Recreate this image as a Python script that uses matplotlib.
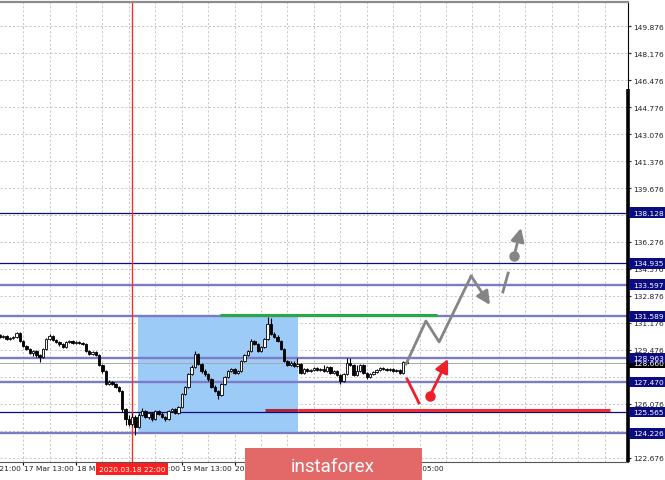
import matplotlib
matplotlib.use("Agg")
import matplotlib.pyplot as plt
from matplotlib.patches import Rectangle
from matplotlib.transforms import blended_transform_factory

# ── Candles (H1) ──────────────────────────────────────────────────────────────
opens = [130.40, 130.30, 130.36, 130.17, 130.23, 130.30, 130.55, 130.04, 129.73, 129.54,
         129.28, 129.41, 129.16, 129.03, 129.54, 130.17, 130.36, 130.11, 129.98, 129.86,
         129.67, 129.98, 130.04, 129.92, 129.98, 129.92, 129.86, 129.41, 129.22, 129.35,
         129.16, 128.53, 128.15, 127.34, 127.46, 127.34, 127.15, 126.89, 125.76, 125.13,
         124.82, 125.26, 124.63, 125.38, 125.64, 125.26, 125.51, 125.13, 125.64, 125.45,
         125.26, 125.13, 125.64, 125.76, 125.51, 125.89, 126.70, 127.15, 127.97, 128.40,
         129.22, 128.59, 128.15, 127.97, 127.65, 127.15, 126.89, 126.64, 127.34, 127.78,
         128.15, 128.28, 128.03, 128.15, 128.78, 129.16, 129.41, 130.04, 129.86, 129.41,
         129.67, 130.17, 131.11, 130.48, 130.30, 130.04, 129.54, 128.78, 128.53, 128.66,
         128.47, 128.59, 128.03, 128.28, 128.15, 128.22, 128.34, 128.22, 128.28, 128.15,
         128.40, 128.03, 128.15, 127.90, 127.53, 127.97, 128.66, 128.53, 127.90, 128.15,
         128.53, 128.03, 127.78, 127.97, 128.09, 128.22, 128.34, 128.28, 128.22, 128.28,
         128.15, 128.22, 128.03, 128.72]
highs = [130.48, 130.42, 130.40, 130.30, 130.36, 130.62, 130.58, 130.08, 129.80, 129.60,
         129.50, 129.46, 129.25, 129.60, 130.22, 130.50, 130.42, 130.18, 130.06, 129.92,
         130.04, 130.12, 130.10, 130.05, 130.04, 129.98, 129.92, 129.48, 129.42, 129.40,
         129.20, 128.60, 128.22, 127.60, 127.55, 127.40, 127.20, 126.95, 125.85, 125.40,
         125.50, 125.35, 125.50, 125.80, 125.72, 125.60, 125.58, 125.70, 125.72, 125.55,
         125.32, 125.70, 125.85, 125.82, 125.95, 126.76, 127.22, 128.05, 128.55, 129.41,
         129.30, 128.66, 128.25, 128.04, 127.72, 127.25, 126.98, 127.40, 127.85, 128.22,
         128.36, 128.34, 128.24, 128.85, 129.24, 129.50, 130.17, 130.12, 129.92, 129.75,
         130.25, 131.56, 131.50, 130.60, 130.40, 130.10, 129.60, 128.85, 128.75, 128.80,
         128.95, 128.65, 128.34, 128.35, 128.30, 128.40, 128.42, 128.34, 128.50, 128.46,
         128.46, 128.22, 128.20, 127.96, 128.05, 128.95, 128.95, 128.60, 128.55, 128.60,
         128.58, 128.10, 128.05, 128.15, 128.30, 128.40, 128.42, 128.35, 128.34, 128.36,
         128.30, 128.28, 128.80, 128.76]
lows = [130.24, 130.25, 130.10, 130.12, 130.18, 130.26, 129.98, 129.66, 129.47, 129.20,
        129.10, 129.05, 128.72, 128.95, 129.50, 130.10, 130.02, 129.90, 129.75, 129.58,
        129.62, 129.92, 129.86, 129.86, 129.85, 129.80, 129.35, 129.16, 129.15, 129.08,
        128.45, 128.00, 127.25, 127.28, 127.25, 127.05, 126.80, 125.60, 124.75, 124.70,
        124.70, 124.12, 124.55, 125.30, 125.18, 125.15, 125.00, 125.05, 125.38, 125.18,
        125.02, 125.08, 125.55, 125.42, 125.45, 125.80, 126.62, 127.08, 127.90, 128.35,
        128.50, 128.05, 127.85, 127.55, 127.05, 126.80, 126.39, 126.55, 127.28, 127.70,
        128.08, 127.95, 127.96, 128.10, 128.72, 129.10, 129.35, 129.78, 129.35, 129.33,
        129.60, 130.10, 130.40, 130.20, 129.95, 129.48, 128.70, 128.45, 128.45, 128.40,
        128.40, 127.95, 127.96, 128.08, 128.10, 128.15, 128.16, 128.15, 128.10, 128.08,
        127.96, 127.95, 127.82, 127.34, 127.45, 127.90, 128.45, 127.82, 127.84, 128.08,
        127.95, 127.65, 127.70, 127.90, 128.02, 128.15, 128.20, 128.16, 128.16, 128.08,
        128.10, 127.96, 127.98, 128.58]
closes = [130.30, 130.36, 130.17, 130.23, 130.30, 130.55, 130.04, 129.73, 129.54, 129.28,
          129.41, 129.16, 129.03, 129.54, 130.17, 130.36, 130.11, 129.98, 129.86, 129.67,
          129.98, 130.04, 129.92, 129.98, 129.92, 129.86, 129.41, 129.22, 129.35, 129.16,
          128.53, 128.15, 127.34, 127.46, 127.34, 127.15, 126.89, 125.76, 125.13, 124.82,
          125.26, 124.63, 125.38, 125.64, 125.26, 125.51, 125.13, 125.64, 125.45, 125.26,
          125.13, 125.64, 125.76, 125.51, 125.89, 126.70, 127.15, 127.97, 128.40, 129.22,
          128.59, 128.15, 127.97, 127.65, 127.15, 126.89, 126.64, 127.34, 127.78, 128.15,
          128.28, 128.03, 128.15, 128.78, 129.16, 129.41, 130.04, 129.86, 129.41, 129.67,
          130.17, 131.11, 130.48, 130.30, 130.04, 129.54, 128.78, 128.53, 128.66, 128.47,
          128.59, 128.03, 128.28, 128.15, 128.22, 128.34, 128.22, 128.28, 128.15, 128.40,
          128.03, 128.15, 127.90, 127.53, 127.97, 128.66, 128.53, 127.90, 128.15, 128.53,
          128.03, 127.78, 127.97, 128.09, 128.22, 128.34, 128.28, 128.22, 128.28, 128.15,
          128.22, 128.03, 128.72, 128.66]

# ── Axes text ─────────────────────────────────────────────────────────────────
time_label_bars = [-9, 7, 23, 39, 55, 71, 87, 103, 119]
time_labels = ["16 Mar 21:00", "17 Mar 13:00", "18 Mar 05:00", "18 Mar 21:00",
               "19 Mar 13:00", "20 Mar 05:00", "20 Mar 21:00", "23 Mar 13:00",
               "24 Mar 05:00"]
price_ticks = [149.876, 148.176, 146.476, 144.776, 143.076, 141.376, 139.676, 137.976,
               136.276, 134.576, 132.876, 131.176, 129.476, 127.776, 126.076, 124.376,
               122.676]
# scale labels that sit fully under a level box
covered_ticks = [137.976, 127.776, 124.376]
levels_thin = [138.128, 134.935, 125.565]
levels_thick = [133.597, 131.589, 128.963, 127.470, 124.226]
marker_bar = 40
marker_label = "2020.03.18 22:00"

# ── Drawn objects ─────────────────────────────────────────────────────────────
zone_bars = [41.8, 90.2]
zone_prices = [124.226, 131.589]
resist_bars = [66.6, 132.3]
resist_price = 131.65
support_bars = [80.2, 90.2, 184.6]
support_price = 125.68
up_path_bars = [122.9, 128.9, 132.9, 142.6, 148.3]
up_path_prices = [128.59, 131.30, 129.98, 134.13, 132.31]
up_tail_bars = [152.2, 153.8]
up_tail_prices = [133.13, 134.32]
up_dot = [155.6, 135.39]
up_tip = [157.7, 137.16]
down_bars = [123.2, 126.8]
down_prices = [127.65, 126.14]
down_dot = [130.1, 126.58]
down_tip = [135.6, 128.91]

NAVY = "#0B0B82"
LEVEL = "#7C7CC6"
GRID = "#BDBDBD"
FS = 5.4

fig = plt.figure(figsize=(6.65, 4.81), dpi=100)
ax = fig.add_axes([0, 18 / 481, 628 / 665, 460 / 481])
ax.set_xlim(0, 190.07)
ax.set_ylim(122.42, 151.39)
ypt = blended_transform_factory(ax.transAxes, ax.transData)
xpt = blended_transform_factory(ax.transData, ax.transAxes)

# grid
grid_bars = [7 + 8 * k for k in range(23)]
ax.set_xticks([b for b in time_label_bars if b >= 0])
ax.set_xticks(grid_bars, minor=True)
ax.set_xticklabels([])
ax.set_yticks(price_ticks)
ax.set_yticklabels(["" if p in covered_ticks else f"{p:.3f}" for p in price_ticks])
ax.grid(True, which="both", color=GRID, linestyle=(0, (2.5, 2.5)), lw=0.6)
ax.set_axisbelow(True)
ax.yaxis.tick_right()
ax.tick_params(axis="y", direction="out", length=2.2, pad=1.5, labelsize=FS,
               colors="#222222")
ax.tick_params(axis="x", which="major", direction="out", length=2.2)
ax.tick_params(axis="x", which="minor", length=0)

ax.spines["left"].set_visible(False)
ax.spines["top"].set_color("#8C8C8C")
ax.spines["top"].set_linewidth(1.6)
ax.spines["right"].set_linewidth(0.8)
ax.spines["bottom"].set_linewidth(0.8)
ax.spines["bottom"].set_color("#555555")
# thick part of price scale line
ax.plot([1, 1], [145.9, 122.42], transform=ypt, color="black", lw=2.6,
        clip_on=False, zorder=6, solid_capstyle="butt")

# zone
ax.add_patch(Rectangle((zone_bars[0], zone_prices[0]), zone_bars[1] - zone_bars[0],
                       zone_prices[1] - zone_prices[0], fc="#9CCBF7", ec="none", zorder=1))

# levels
for p in levels_thin:
    ax.axhline(p, color=NAVY, lw=0.9, zorder=2)
for p in levels_thick:
    ax.axhline(p, color=LEVEL, lw=1.7, zorder=2)
ax.axhline(closes[-1], color="#A8A8A8", lw=0.7, zorder=2)

# time marker
ax.axvline(marker_bar, color="#FF2A2A", lw=1.0, zorder=2.5)

# candles
for i, (o, h, l, c) in enumerate(zip(opens, highs, lows, closes)):
    ax.vlines(i, l, h, color="black", lw=0.8, zorder=3)
    lo, hi = min(o, c), max(o, c)
    ax.add_patch(Rectangle((i - 0.36, lo), 0.72, max(hi - lo, 0.03),
                           fc="white" if c >= o else "black", ec="black", lw=0.6, zorder=4))

# resistance / support
ax.plot(resist_bars, [resist_price] * 2, color="#28A745", lw=2.2, zorder=5,
        solid_capstyle="butt")
ax.plot(support_bars[:2], [support_price] * 2, color="#A8283A", lw=2.2, zorder=5,
        solid_capstyle="butt")
ax.plot(support_bars[1:], [support_price] * 2, color="#EC2D38", lw=2.2, zorder=5,
        solid_capstyle="butt")

# forecast paths
GRAY = "#858585"
ARROW = "-|>,head_length=0.8,head_width=0.4"
ax.plot(up_path_bars[:4], up_path_prices[:4], color=GRAY, lw=2.0, zorder=6)
ax.annotate("", xy=(up_path_bars[4], up_path_prices[4]),
            xytext=(up_path_bars[3], up_path_prices[3]),
            arrowprops=dict(arrowstyle=ARROW, color=GRAY, lw=2.0, shrinkA=0, shrinkB=0),
            zorder=6)
ax.plot(up_tail_bars, up_tail_prices, color=GRAY, lw=2.0, zorder=6)
ax.plot(*up_dot, "o", color=GRAY, ms=6.5, zorder=6)
ax.annotate("", xy=up_tip, xytext=up_dot,
            arrowprops=dict(arrowstyle=ARROW, color=GRAY, lw=2.0, shrinkA=0, shrinkB=0),
            zorder=6)

RED = "#F01E28"
ax.plot(down_bars, down_prices, color=RED, lw=2.0, zorder=6)
ax.plot(*down_dot, "o", color=RED, ms=6.5, zorder=6)
ax.annotate("", xy=down_tip, xytext=down_dot,
            arrowprops=dict(arrowstyle=ARROW, color=RED, lw=2.0, shrinkA=0, shrinkB=0),
            zorder=6)

# price scale boxes
def price_box(p, fc):
    ax.add_patch(Rectangle((1 + 1 / 628, p - 0.33), 36 / 628, 0.66, transform=ypt,
                           fc=fc, ec="none", clip_on=False, zorder=7))
    ax.text(1 + 5 / 628, p, f"{p:.3f}", transform=ypt, color="white", fontsize=FS,
            va="center", ha="left", clip_on=False, zorder=8)

price_box(closes[-1], "black")
for p in sorted(levels_thin + levels_thick):
    price_box(p, NAVY)

# time labels
for b, t in zip(time_label_bars, time_labels):
    ax.annotate(t, xy=(b, 0), xycoords=xpt, xytext=(0.5, -2.2),
                textcoords="offset points", ha="left", va="top", fontsize=FS,
                color="#222222", annotation_clip=False)
ax.annotate(marker_label, xy=(marker_bar, 0), xycoords=xpt, xytext=(0, -2.6),
            textcoords="offset points", ha="center", va="top", fontsize=FS,
            color="white", annotation_clip=False, zorder=9,
            bbox=dict(boxstyle="square,pad=0.4", fc="#FF1E1E", ec="none"))

# watermark banner
fig.patches.append(Rectangle((245 / 665, 0), 177 / 665, 32 / 481,
                             transform=fig.transFigure, fc="#E36868", ec="none",
                             zorder=10))
fig.text(333 / 665, 9 / 481, "instaforex", color="white", fontsize=13.5,
         family="Roboto", ha="center", va="baseline", zorder=11)

fig.savefig("out.png", dpi=100)
